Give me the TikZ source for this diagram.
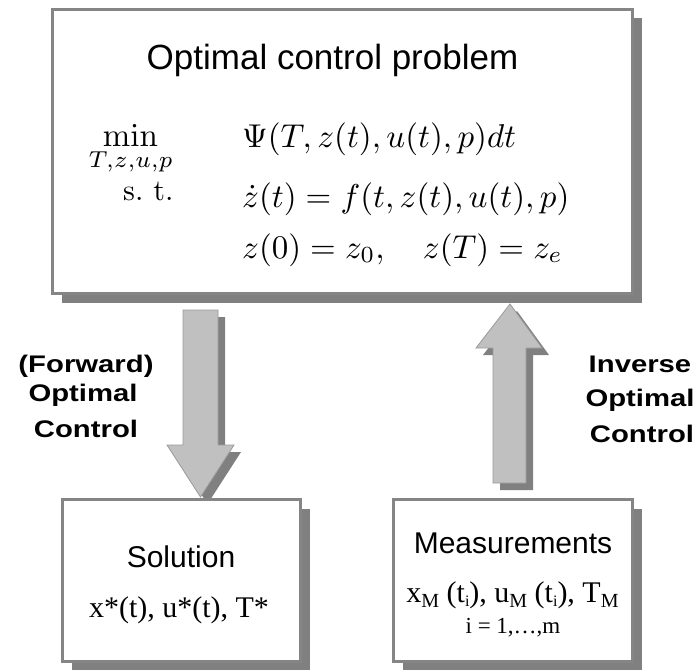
\documentclass[tikz,border=0pt]{standalone}
\usepackage[no-math]{fontspec}
\usepackage{amsmath}
\usepackage{graphicx}
\usetikzlibrary{shadows}
\newfontfamily\arialf{Liberation Sans}
\newfontfamily\timesf{Liberation Serif}
\newfontfamily\lblf[FakeStretch=1.22]{Liberation Sans Bold}
\definecolor{bordergray}{HTML}{858585}
\definecolor{shadowgray}{HTML}{808080}
\definecolor{arrowfill}{HTML}{C0C0C0}
\definecolor{arrowedge}{HTML}{9A9A9A}
\newcommand{\lowsub}[1]{\raisebox{-5pt}{\fontsize{20}{20}\selectfont #1}}
\newcommand{\lowsubi}[1]{\raisebox{-4pt}{\fontsize{16}{16}\selectfont #1}}
\newcommand{\mathbig}[1]{\scalebox{3.3}{#1}}
\tikzset{
  panel/.style={draw=bordergray, line width=2.5pt, fill=white, inner sep=0pt,
    general shadow={fill=shadowgray, shadow xshift=9pt, shadow yshift=-9pt}},
  blockarrow/.style={fill=arrowfill, draw=arrowedge, line width=0.8pt,
    general shadow={fill=shadowgray, shadow xshift=7pt, shadow yshift=-7pt}},
  txt/.style={inner sep=0pt, anchor=base},
  txtw/.style={inner sep=0pt, anchor=base west},
  titlef/.style={font=\arialf\fontsize{35}{40}\selectfont},
  headf/.style={font=\arialf\fontsize{30}{36}\selectfont},
  serif/.style={font=\timesf\fontsize{30}{36}\selectfont},
  mathf/.style={font=\fontsize{10}{12}\selectfont},
  lbl/.style={font=\lblf\fontsize{24}{28}\selectfont, inner sep=0pt, anchor=base}
}
\begin{document}
\begin{tikzpicture}[x=1pt,y=-1pt]
\useasboundingbox (0,0) rectangle (698,669);

% top box
\node[panel, minimum width=580pt, minimum height=284pt] (ocp) at (342.5,151.5) {};
\node[txt, titlef] (title) at (332.5,70) {Optimal control problem};
\node[txt, mathf] (minop) at (130.5,146) {\mathbig{$\displaystyle\min_{T,z,u,p}$}};
\node[txtw, mathf] (obj) at (242,147) {\mathbig{$\Psi(T,z(t),u(t),p)dt$}};
\node[txtw, mathf] (st) at (123,200) {\scalebox{3.0}{s.\ t.}};
\node[txtw, mathf] (dyn) at (242,207) {\mathbig{$\dot z(t) = f(t,z(t),u(t),p)$}};
\node[txtw, mathf] (bc) at (242,258) {\mathbig{$z(0) = z_0,\quad z(T) = z_e$}};

% arrows
\coordinate (dtop) at (200.5,310);
\coordinate (utip) at (510,304);
\draw[blockarrow] (183,310) -- (218,310) -- (218,445) -- (234,445) -- (200.5,497)
  -- (167,445) -- (183,445) -- cycle;
\draw[blockarrow] (493,483) -- (526,483) -- (526,348) -- (542,348) -- (utip)
  -- (476,348) -- (493,348) -- cycle;

% labels
\node[lbl] (fw1) at (86,372) {(Forward)};
\node[lbl] (fw2) at (83,401) {Optimal};
\node[lbl] (fw3) at (86,437) {Control};
\node[lbl] (iv1) at (640,372) {Inverse};
\node[lbl] (iv2) at (640,406) {Optimal};
\node[lbl] (iv3) at (642,442) {Control};

% bottom boxes
\node[panel, minimum width=238pt, minimum height=162pt] (sol) at (181.5,580.5) {};
\node[txt, headf] (solt) at (181,567) {Solution};
\node[txt, serif] (solv) at (179,617) {x*(t), u*(t), T*};

\node[panel, minimum width=239pt, minimum height=162pt] (meas) at (513,580.5) {};
\node[txt, headf] (meast) at (513,553) {Measurements};
\node[txt, serif] (measv) at (512.5,602) {x\lowsub{M} (t\lowsubi{i}), u\lowsub{M} (t\lowsubi{i}), T\lowsub{M}};
\node[txt, font=\timesf\fontsize{23}{28}\selectfont] (measi) at (513,633) {i = 1,…,m};
\end{tikzpicture}
\end{document}
